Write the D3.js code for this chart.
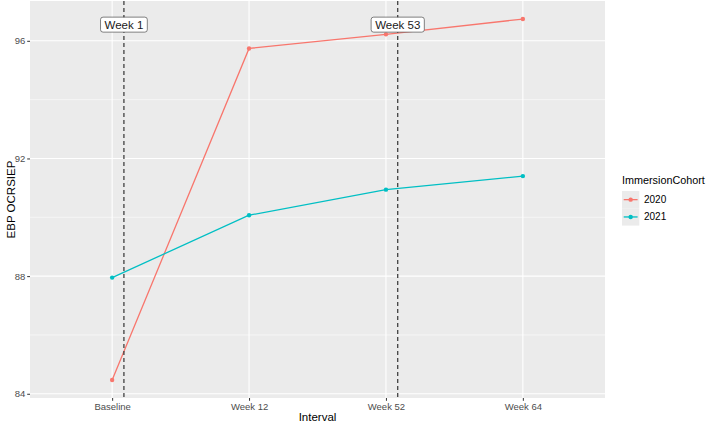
<html>
<head>
<script src="https://d3js.org/d3.v7.min.js"></script>
<style>
  body { margin: 0; background: #fff; }
  text { font-family: "Liberation Sans", Arial, sans-serif; }
  .tick text { fill: #4d4d4d; font-size: 9.5px; }
</style>
</head>
<body>
<svg id="chart" width="709" height="424"></svg>
<script>
const intervals = ["Baseline", "Week 12", "Week 52", "Week 64"];
const cohorts = ["2020", "2021"];
const values2020 = [84.47, 95.74, 96.22, 96.74];
const values2021 = [87.95, 90.07, 90.94, 91.40];
const yTicks = [84, 88, 92, 96];
const markerLabels = ["Week 1", "Week 53"];
const markerPositions = [1.086, 3.086];   // index on the interval axis
const markerLabelY = 96.55;

const colors = { "2020": "#F8766D", "2021": "#00BFC4" };
const series = [
  { name: "2020", values: values2020 },
  { name: "2021", values: values2021 }
];

const svg = d3.select("#chart");
const margin = { top: 1, left: 30, right: 104, bottom: 26 };
const width = 709, height = 424;
const pw = width - margin.left - margin.right;
const ph = height - margin.top - margin.bottom;

// discrete axis with ggplot style 0.6 expansion
const x = d3.scaleLinear().domain([1 - 0.6, intervals.length + 0.6]).range([0, pw]);
const allVals = values2020.concat(values2021);
const ext = d3.extent(allVals);
const pad = (ext[1] - ext[0]) * 0.05;
const y = d3.scaleLinear().domain([ext[0] - pad, ext[1] + pad]).range([ph, 0]);

const g = svg.append("g").attr("transform", `translate(${margin.left},${margin.top})`);

g.append("rect").attr("width", pw).attr("height", ph).attr("fill", "#EBEBEB");

// minor grid
const minor = d3.range(yTicks.length - 1).map(i => (yTicks[i] + yTicks[i + 1]) / 2);
g.selectAll("line.minor").data(minor).join("line")
  .attr("x1", 0).attr("x2", pw)
  .attr("y1", d => y(d)).attr("y2", d => y(d))
  .attr("stroke", "#fff").attr("stroke-width", 0.55);

g.selectAll("line.majy").data(yTicks).join("line")
  .attr("x1", 0).attr("x2", pw)
  .attr("y1", d => y(d)).attr("y2", d => y(d))
  .attr("stroke", "#fff").attr("stroke-width", 1.1);

g.selectAll("line.majx").data(intervals).join("line")
  .attr("x1", (d, i) => x(i + 1)).attr("x2", (d, i) => x(i + 1))
  .attr("y1", 0).attr("y2", ph)
  .attr("stroke", "#fff").attr("stroke-width", 1.1);

// axes
const yAxis = g.append("g").call(d3.axisLeft(y).tickValues(yTicks).tickSize(2.8).tickPadding(2));
yAxis.select(".domain").remove();
yAxis.selectAll(".tick line").attr("stroke", "#333");

const xAxis = g.append("g").attr("transform", `translate(0,${ph})`)
  .call(d3.axisBottom(x).tickValues(intervals.map((d, i) => i + 1))
    .tickFormat(d => intervals[d - 1]).tickSize(2.8).tickPadding(2));
xAxis.select(".domain").remove();
xAxis.selectAll(".tick line").attr("stroke", "#333");

// lines and points
const line = d3.line().x((d, i) => x(i + 1)).y(d => y(d));
series.forEach(s => {
  g.append("path").datum(s.values).attr("d", line)
    .attr("fill", "none").attr("stroke", colors[s.name]).attr("stroke-width", 1.3);
  g.selectAll(null).data(s.values).join("circle")
    .attr("cx", (d, i) => x(i + 1)).attr("cy", d => y(d))
    .attr("r", 2.2).attr("fill", colors[s.name]);
});

// dashed markers
markerPositions.forEach((p, k) => {
  g.append("line")
    .attr("x1", x(p)).attr("x2", x(p)).attr("y1", 0).attr("y2", ph)
    .attr("stroke", "#333").attr("stroke-width", 1.2).attr("stroke-dasharray", "4,3");
  const lab = g.append("g").attr("transform", `translate(${x(p)},${y(markerLabelY)})`);
  const t = lab.append("text").attr("text-anchor", "middle").attr("dy", "0.35em")
    .attr("font-size", 11.5).attr("fill", "#1a1a1a").text(markerLabels[k]);
  const bb = t.node().getBBox();
  lab.insert("rect", "text")
    .attr("x", bb.x - 4).attr("y", -7.5).attr("width", bb.width + 8).attr("height", 15)
    .attr("rx", 2.5).attr("fill", "#fff").attr("stroke", "#333").attr("stroke-width", 0.6);
});

// axis titles
svg.append("text").attr("x", margin.left + pw / 2).attr("y", 421)
  .attr("text-anchor", "middle").attr("font-size", 11.5).attr("fill", "#000").text("Interval");
svg.append("text").attr("transform", `translate(15,${margin.top + ph / 2}) rotate(-90)`)
  .attr("text-anchor", "middle").attr("font-size", 11.5).attr("fill", "#000").text("EBP OCRSIEP");

// legend
const lg = svg.append("g").attr("transform", "translate(622,170)");
lg.append("text").attr("x", 0).attr("y", 14).attr("font-size", 10.8).attr("fill", "#000").text("ImmersionCohort");
cohorts.forEach((c, i) => {
  const ky = 21 + i * 17.3;
  lg.append("rect").attr("x", 0).attr("y", ky).attr("width", 17.3).attr("height", 17.3).attr("fill", "#EBEBEB");
  lg.append("line").attr("x1", 1.7).attr("x2", 15.6).attr("y1", ky + 8.65).attr("y2", ky + 8.65)
    .attr("stroke", colors[c]).attr("stroke-width", 1.3);
  lg.append("circle").attr("cx", 8.65).attr("cy", ky + 8.65).attr("r", 2.2).attr("fill", colors[c]);
  lg.append("text").attr("x", 22).attr("y", ky + 8.65).attr("dy", "0.35em")
    .attr("font-size", 10).attr("fill", "#000").text(c);
});
</script>
</body>
</html>
